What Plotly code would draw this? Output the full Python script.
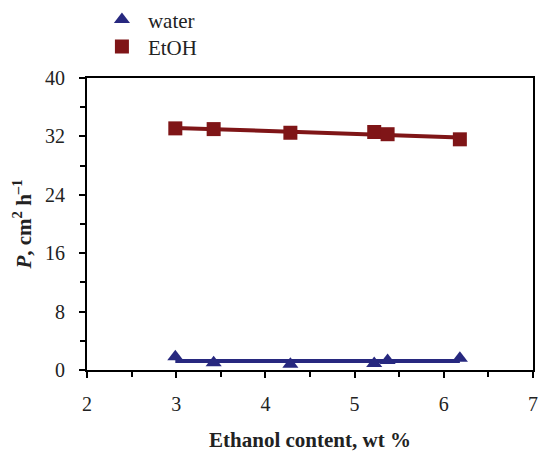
import numpy as np
import plotly.graph_objects as go

ethanol_wt = [2.99, 3.42, 4.28, 5.22, 5.37, 6.18]
p_water = [1.8, 1.0, 0.8, 0.9, 1.3, 1.6]
p_etoh = [33.1, 33.0, 32.5, 32.6, 32.3, 31.6]

x_ticks = [2, 3, 4, 5, 6, 7]
y_ticks = [0, 8, 16, 24, 32, 40]

WATER = "#27287f"
ETOH = "#7f1517"
FONT = "Liberation Serif, Times New Roman, DejaVu Serif, serif"

def f(size=20):
    return dict(family=FONT, size=size, color="#222")

fig = go.Figure()

x = np.array(ethanol_wt)
for vals, color in [(p_water, WATER), (p_etoh, ETOH)]:
    k, b = np.polyfit(x, np.array(vals), 1)
    xs = np.array([x.min(), x.max()])
    fig.add_trace(go.Scatter(x=xs, y=k * xs + b, mode="lines",
                             line=dict(color=color, width=4), showlegend=False,
                             hoverinfo="skip"))

fig.add_trace(go.Scatter(x=ethanol_wt, y=p_water, mode="markers", name="water",
                         legend="legend",
                         marker=dict(symbol="triangle-up", size=14, color=WATER)))
fig.add_trace(go.Scatter(x=ethanol_wt, y=p_etoh, mode="markers", name="EtOH",
                         legend="legend2",
                         marker=dict(symbol="square", size=14, color=ETOH)))

leg = dict(x=0.02, xanchor="left", yanchor="middle", bgcolor="rgba(0,0,0,0)",
           font=f(21), itemwidth=42)

fig.update_layout(
    width=539, height=452,
    margin=dict(l=87, r=6, t=78, b=82, autoexpand=False),
    paper_bgcolor="white", plot_bgcolor="white",
    font=f(),
    legend=dict(leg, y=1.199),
    legend2=dict(leg, y=1.107),
    xaxis=dict(range=[2, 7], tickvals=x_ticks, showgrid=False, zeroline=False,
               showline=True, mirror=True, linecolor="black", linewidth=2,
               ticks="outside", ticklen=6, tickwidth=2, tickcolor="black",
               minor=dict(dtick=0.5, ticks="outside", ticklen=5, tickwidth=2, tickcolor="black"),
               tickfont=f(20), ticklabelstandoff=9, automargin=False,
               title=dict(text="<b>Ethanol content, wt %</b>", font=f(21), standoff=23)),
    yaxis=dict(range=[0, 40], tickvals=y_ticks, showgrid=False, zeroline=False,
               showline=True, mirror=True, linecolor="black", linewidth=2,
               ticks="outside", ticklen=6, tickwidth=2, tickcolor="black",
               minor=dict(dtick=4, ticks="outside", ticklen=5, tickwidth=2, tickcolor="black"),
               tickfont=f(20), ticklabelstandoff=10, automargin=False,
               title=dict(text="<b><i>P</i>, cm<sup>2</sup> h<sup>–1</sup></b>", font=f(21), standoff=8)),
)

fig.write_html("out.html")
